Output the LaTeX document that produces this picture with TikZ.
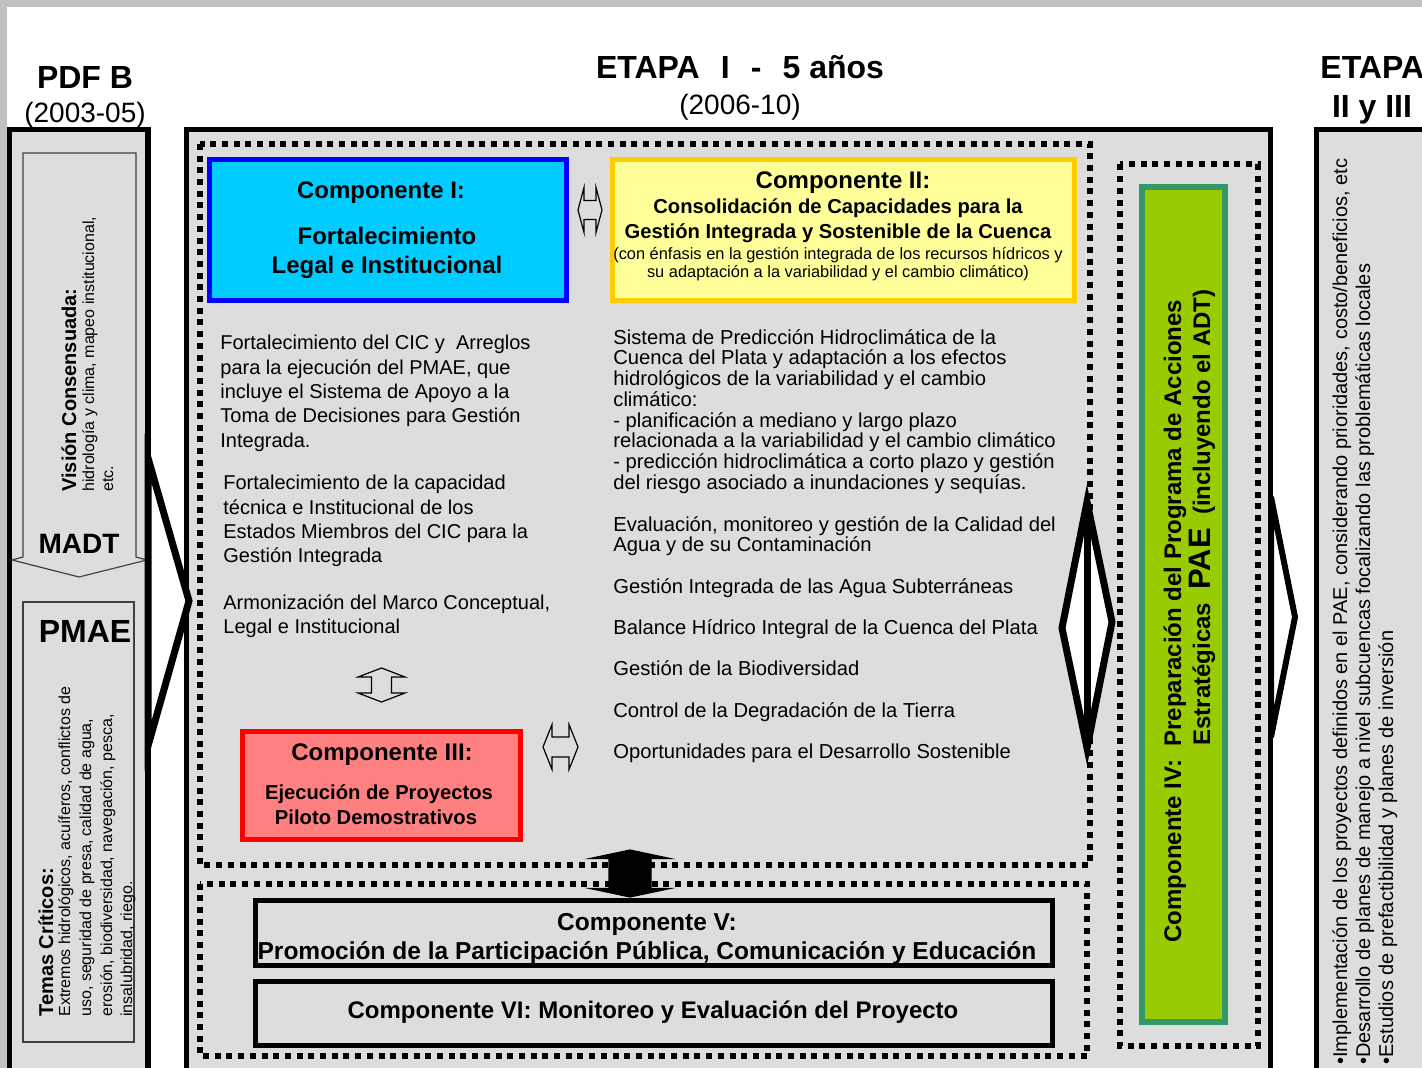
\documentclass[tikz,border=0pt]{standalone}
\usepackage{fontspec}
\setmainfont{Liberation Sans}
\definecolor{panelgray}{HTML}{DDDDDD}
\definecolor{edgegray}{HTML}{C0C0C0}
\definecolor{compcyan}{HTML}{00CCFF}
\definecolor{compblue}{HTML}{0000FF}
\definecolor{compyellow}{HTML}{FFFF99}
\definecolor{compgold}{HTML}{FFCC00}
\definecolor{compred}{HTML}{FF0000}
\definecolor{comppink}{HTML}{FF8080}
\definecolor{compgreen}{HTML}{99CC00}
\definecolor{compteal}{HTML}{339966}
\newcommand{\framerect}[2]% corner, opposite corner
{(#1) rectangle (#2)
}
\newcommand{\dblarrowpath}[4]% half length, head length, half head width, half shaft width
{(0,-#1) -- (#3,{#2-#1}) -- (#4,{#2-#1}) -- (#4,{#1-#2}) -- (#3,{#1-#2}) -- (0,#1)
 -- (-#3,{#1-#2}) -- (-#4,{#1-#2}) -- (-#4,{#2-#1}) -- (-#3,{#2-#1}) -- cycle
}
\tikzset{
  panel/.style={draw=black, line width=2.6pt, fill=panelgray},
  dotframe/.style={draw=black, line width=3pt, dash pattern=on 3pt off 2.85pt},
  compframe/.style={line width=2.5pt},
  thinframe/.style={draw=black!75, line width=0.6pt, fill=panelgray},
  blockarrow/.style={draw=black, line width=0.6pt, fill=panelgray, line join=miter},
  chevron/.style={draw=black, line width=3.5pt, fill=white, line join=miter},
  title/.style={font=\fontsize{16}{19}\selectfont\bfseries, anchor=base, inner sep=0},
  years/.style={font=\fontsize{14}{17}\selectfont, anchor=base, inner sep=0},
  ctitle/.style={font=\fontsize{12}{14}\selectfont\bfseries, anchor=base, inner sep=0},
  csub/.style={font=\fontsize{10.1}{12}\selectfont\bfseries, anchor=base, inner sep=0},
  cnote/.style={font=\fontsize{8.2}{10}\selectfont, anchor=base, inner sep=0},
  body/.style={font=\fontsize{10}{12.15}\selectfont, anchor=north west, align=left, inner sep=0},
  bodytight/.style={font=\fontsize{10.1}{10.35}\selectfont, anchor=north west, align=left, inner sep=0},
  sidehead/.style={font=\fontsize{10}{12}\selectfont\bfseries, rotate=90, anchor=base west, inner sep=0},
  sidetext/.style={font=\fontsize{8}{10}\selectfont, rotate=90, anchor=base west, inner sep=0},
  sidelist/.style={font=\fontsize{10}{12}\selectfont, rotate=90, anchor=base west, inner sep=0}
}
\begin{document}
\begin{tikzpicture}[x=0.5pt, y=-0.5pt]
  \path[use as bounding box] (0,0) rectangle (1422,1068);
  \clip (0,0) rectangle (1422,1068);
  \fill[white] (0,0) rectangle (1422,1068);
  \fill[edgegray] (0,0) rectangle (1422,7);
  \fill[edgegray] (0,0) rectangle (7,1068);

  % titles
  \node[title] (pdfb) at (85,89) {PDF B};
  \node[years] (pdfbyr) at (85,123) {(2003-05)};
  \node[title] (etapa1) at (740,79) {ETAPA\hspace{0.66em}I\hspace{0.66em}-\hspace{0.66em}5 años};
  \node[years] (etapa1yr) at (740,115) {(2006-10)};
  \node[title, anchor=base west] (etapa2) at (1320,79) {ETAPA};
  \node[title] (etapa2b) at (1372,118) {II y III};

  % panels
  \draw[panel] \framerect{9.5,129.5}{148,1090};
  \draw[panel] \framerect{186.5,129.5}{1270.5,1090};
  \draw[panel] \framerect{1316.5,129.5}{1450,1090};

  % PDF B column
  \draw[thinframe] (23,153) -- (136,153) -- (136,557) -- (147,560) -- (79,577)
    -- (12,560) -- (23,557) -- cycle;
  \draw[thinframe] \framerect{23,602}{134,1042};
  \node[sidehead] (vision) at (76,492) {Visión Consensuada:};
  \node[sidetext] (visiona) at (94,492) {hidrología y clima, mapeo institucional,};
  \node[sidetext] (visionb) at (113,492) {etc.};
  \node[title, font=\fontsize{14}{17}\selectfont\bfseries] (madt) at (79,553) {MADT};
  \node[title] (pmae) at (85,642.5) {PMAE};
  \node[sidehead] (temas) at (53,1017) {Temas Críticos:};
  \node[sidetext] (temasa) at (70,1017) {Extremos hidrológicos, acuíferos, conflictos de};
  \node[sidetext] (temasb) at (91,1017) {uso, seguridad de presa, calidad de agua,};
  \node[sidetext] (temasc) at (112,1017) {erosión, biodiversidad, navegación, pesca,};
  \node[sidetext] (temasd) at (132,1017) {insalubridad, riego.};

  % dotted frames
  \draw[dotframe] \framerect{200,144}{1090,865};
  \draw[dotframe] \framerect{200,883.5}{1087,1056};
  \draw[dotframe] \framerect{1120,164.5}{1258,1046};

  % components
  \draw[compframe, draw=compblue, fill=compcyan] \framerect{209.5,159.5}{566.5,300.5};
  \draw[compframe, draw=compgold, fill=compyellow] \framerect{612.5,159.5}{1074.5,300.5};
  \draw[compframe, draw=compred, fill=comppink] \framerect{242.5,731.5}{520.5,839.5};
  \draw[compframe, draw=compteal, fill=compgreen, line width=3pt] \framerect{1142,187}{1225,1022};
  \draw[compframe, draw=black] \framerect{255.5,900.5}{1052.5,965.5};
  \draw[compframe, draw=black] \framerect{255.5,981.5}{1052.5,1045.5};

  \node[ctitle] (c1title) at (381,198.5) {Componente I:};
  \node[ctitle] (c1name) at (387,244.5) {Fortalecimiento};
  \node[ctitle] (c1nameb) at (387,273.5) {Legal e Institucional};

  \node[ctitle] (c2title) at (843,188.5) {Componente II:};
  \node[csub] (c2name) at (838,213.5) {Consolidación de Capacidades para la};
  \node[csub] (c2nameb) at (838,238.5) {Gestión Integrada y Sostenible de la Cuenca};
  \node[cnote] (c2note) at (838,259.5) {(con énfasis en la gestión integrada de los recursos hídricos y};
  \node[cnote] (c2noteb) at (838,277.5) {su adaptación a la variabilidad y el cambio climático)};

  \node[ctitle] (c3title) at (382,760.5) {Componente III:};
  \node[csub] (c3name) at (379,799.5) {Ejecución de Proyectos};
  \node[csub] (c3nameb) at (376,824.5) {Piloto Demostrativos};

  \node[ctitle, rotate=90, anchor=base west] (c4title) at (1181,943)
    {Componente IV:\ \ Preparación del Programa de Acciones};
  \node[ctitle, rotate=90, anchor=base west] (c4name) at (1210,746)
    {Estratégicas\ \ {\fontsize{15.5}{18}\selectfont PAE}\ \ (incluyendo el ADT)};

  \node[ctitle, font=\fontsize{12.25}{14}\selectfont\bfseries] (c5title) at (647,930.5) {Componente V:};
  \node[ctitle, font=\fontsize{12.25}{14}\selectfont\bfseries] (c5name) at (647,959.5) {Promoción de la Participación Pública, Comunicación y Educación};
  \node[ctitle] (c6title) at (653,1018.5) {Componente VI: Monitoreo y Evaluación del Proyecto};

  % activities
  \node[body] (c1txta) at (220,335) {Fortalecimiento del CIC y\ \ Arreglos\\para la ejecución del PMAE, que\\incluye el Sistema de Apoyo a la\\Toma de Decisiones para Gestión\\Integrada.};
  \node[body] (c1txtb) at (223,475) {Fortalecimiento de la capacidad\\técnica e Institucional de los\\Estados Miembros del CIC para la\\Gestión Integrada};
  \node[body] (c1txtc) at (223,594) {Armonización del Marco Conceptual,\\Legal e Institucional};

  \node[bodytight] (c2txta) at (613,329) {Sistema de Predicción Hidroclimática de la\\Cuenca del Plata y adaptación a los efectos\\hidrológicos de la variabilidad y el cambio\\climático:\\- planificación a mediano y largo plazo\\relacionada a la variabilidad y el cambio climático\\- predicción hidroclimática a corto plazo y gestión\\del riesgo asociado a inundaciones y sequías.};
  \node[bodytight] (c2txtb) at (613,516) {Evaluación, monitoreo y gestión de la Calidad del\\Agua y de su Contaminación};
  \node[bodytight] (c2txtc) at (613,578) {Gestión Integrada de las Agua Subterráneas};
  \node[bodytight] (c2txtd) at (613,619) {Balance Hídrico Integral de la Cuenca del Plata};
  \node[bodytight] (c2txte) at (613,660) {Gestión de la Biodiversidad};
  \node[bodytight] (c2txtf) at (613,702) {Control de la Degradación de la Tierra};
  \node[bodytight] (c2txtg) at (613,743) {Oportunidades para el Desarrollo Sostenible};

  % ETAPA II y III column
  \node[sidelist] (etapa2a) at (1347,1065) {•Implementación de los proyectos definidos en el PAE, considerando prioridades, costo/beneficios, etc};
  \node[sidelist] (etapa2b) at (1370,1065) {•Desarrollo de planes de manejo a nivel subcuencas focalizando las problemáticas locales};
  \node[sidelist] (etapa2c) at (1393,1065) {•Estudios de prefactibilidad y planes de inversión};

  % block arrows
  \draw[chevron] (148,458) -- (189,601) -- (148,746) -- cycle;
  \draw[chevron, line width=3pt] (1271,497) -- (1295,617) -- (1271,737) -- cycle;
  \draw[chevron] (1087,502) -- (1112,622) -- (1087,748) -- (1062,628) -- cycle;
  \draw[line width=3.5pt] (1087,502) -- (1087,748);
  \draw[blockarrow, shift={(590,210)}, rotate=90] \dblarrowpath{12}{6}{22.5}{9.5};
  \draw[blockarrow, shift={(381.5,685)}] \dblarrowpath{17}{9}{23.5}{10};
  \draw[blockarrow, shift={(560.5,747)}, rotate=90] \dblarrowpath{17.5}{9}{22.5}{10};
  \draw[blockarrow, fill=black, shift={(630,873.5)}] \dblarrowpath{23.5}{8.5}{40}{21};
\end{tikzpicture}
\end{document}
